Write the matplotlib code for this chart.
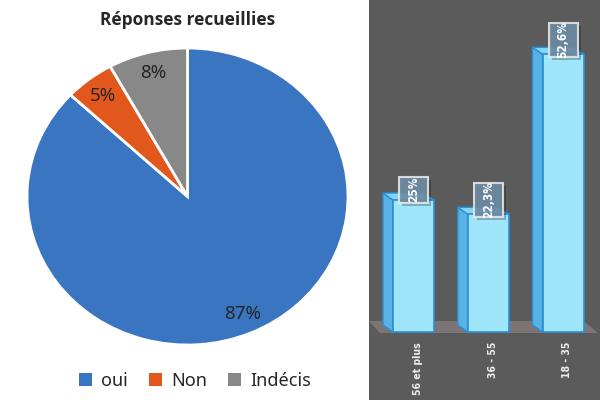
import matplotlib
matplotlib.use('Agg')
import matplotlib.pyplot as plt
from matplotlib.patches import Polygon, Rectangle, Patch

# Pie data
pie_labels = ['oui', 'Non', 'Indécis']
pie_values = [87, 5, 8]
pie_colors = ['#3a75c1', '#e2571c', '#888888']

# Bar data (age groups)
age_groups = ['56 et plus', '36 - 55', '18 - 35']
age_values = [25, 22.3, 52.6]
age_texts = ['25%', '22,3%', '52,6%']

W, H = 600, 400
fig = plt.figure(figsize=(6, 4), dpi=100)
fig.patch.set_facecolor('white')

narrow = dict(family='DejaVu Sans', stretch='condensed', weight='bold')


def px_axes(left, bottom, width, height):
    # axes placed in pixel units
    return fig.add_axes([left / W, bottom / H, width / W, height / H])


# ---- left panel: pie
ax = px_axes(27, 55, 321, 297)
ax.pie(pie_values, colors=pie_colors, startangle=90, counterclock=False,
       autopct=lambda p: f'{p:.0f}%', pctdistance=0.86,
       wedgeprops=dict(edgecolor='white', linewidth=2),
       textprops=dict(color='#262626', fontsize=13.5, family='Noto Sans'))
ax.set_aspect('auto')
ax.set_xlim(-1, 1)
ax.set_ylim(-1, 1)

fig.text(187.5 / W, 1 - 20 / H, 'Réponses recueillies', ha='center', va='center',
         fontsize=12.5, weight='bold', family=['Open Sans', 'DejaVu Sans'], color='#262626')

handles = [Patch(facecolor=c, label=l) for c, l in zip(pie_colors, pie_labels)]
fig.legend(handles=handles, loc='center', bbox_to_anchor=(195 / W, 1 - 381 / H),
           ncol=3, frameon=False, prop=dict(family='Noto Sans', size=13),
           handlelength=0.7, handleheight=0.7, handletextpad=0.5, columnspacing=1.2,
           labelcolor='#262626')

# ---- right panel: pseudo 3D bars
ax2 = px_axes(369, 0, 231, 400)
ax2.set_facecolor('#5b5b5b')
ax2.set_xticks([])
ax2.set_yticks([])
for s in ax2.spines.values():
    s.set_visible(False)

xs = 74.75   # px per category
ys = 5.28    # px per percent
ax2.set_xlim(-(413.5 - 369) / xs, (600 - 413.5) / xs)
ax2.set_ylim(-68 / ys, 332 / ys)


def dx(px):
    return (px - 413.5) / xs


# floor
floor = Polygon([(dx(369), 11 / ys), (dx(380), -1 / ys), (dx(598), -1 / ys), (dx(584), 11 / ys)],
                closed=True, facecolor='#7d7575', edgecolor='none', zorder=1)
ax2.add_patch(floor)

bw = 41 / xs
ddx = 10 / xs
ddy = 7 / ys
edge = '#2a8fd6'
for i, v in enumerate(age_values):
    l, r = i - bw / 2, i + bw / 2
    side = Polygon([(l, 0), (l, v), (l - ddx, v + ddy), (l - ddx, ddy)], closed=True,
                   facecolor='#58b2e4', edgecolor=edge, linewidth=1, zorder=2)
    top = Polygon([(l, v), (r, v), (r - ddx, v + ddy), (l - ddx, v + ddy)], closed=True,
                  facecolor='#84d4f4', edgecolor=edge, linewidth=1, zorder=2)
    ax2.add_patch(side)
    ax2.add_patch(top)

ax2.bar(range(len(age_values)), age_values, width=bw, color='#a0e6fb',
        edgecolor=edge, linewidth=1.2, zorder=3)

# value label boxes
bxw = 29 / xs
for i, (v, txt) in enumerate(zip(age_values, age_texts)):
    bh = (14 + 4 * len(txt)) / ys
    b0 = v - 0.5
    ax2.add_patch(Rectangle((i - bxw / 2 + 3 / xs, b0 - 3 / ys), bxw, bh,
                            facecolor='black', alpha=0.25, edgecolor='none', zorder=4))
    ax2.add_patch(Rectangle((i - bxw / 2, b0), bxw, bh, facecolor='#6f8ea6', alpha=0.9,
                            edgecolor='#e6e6e6', linewidth=1.5, zorder=5))
    ax2.text(i, b0 + bh / 2, txt, rotation=90, ha='center', va='center', color='white',
             fontsize=8.5, zorder=6, **narrow)

# category labels
for i, name in enumerate(age_groups):
    ax2.text(i + 0.06, -10 / ys, name, rotation=90, ha='center', va='top', color='#eeeeee',
             fontsize=7.5, **narrow)

fig.savefig('out.png', dpi=100)
